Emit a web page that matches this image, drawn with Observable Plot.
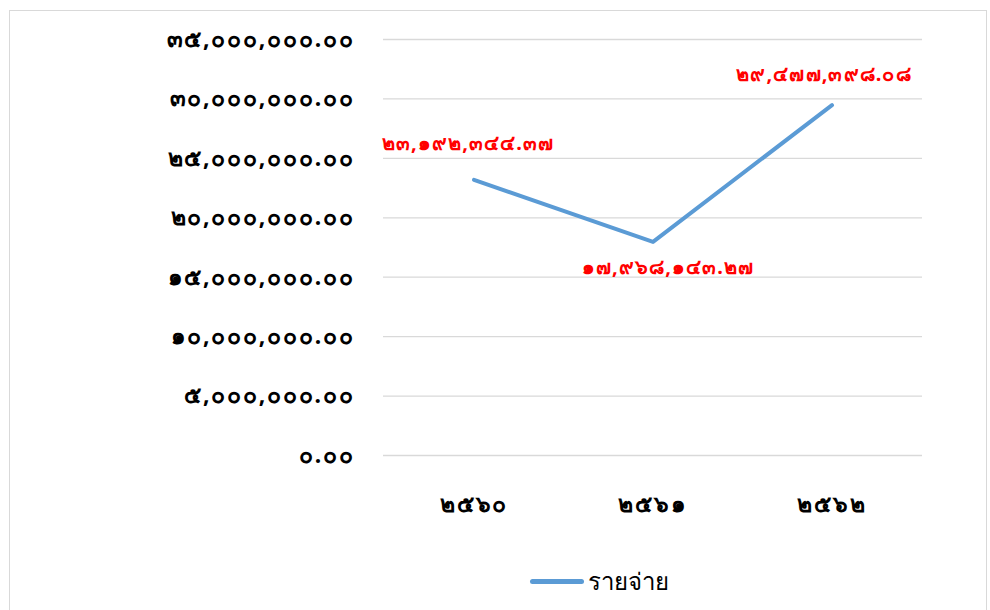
<!DOCTYPE html>
<html>
<head>
<meta charset="utf-8">
<script src="https://cdn.jsdelivr.net/npm/d3@7"></script>
<script src="https://cdn.jsdelivr.net/npm/@observablehq/plot@0.6"></script>
<style>
  html, body { margin: 0; padding: 0; background: #fff; }
  #wrap { position: relative; width: 990px; height: 610px; overflow: hidden; font-family: "Noto Sans", "DejaVu Sans", sans-serif; }
  #frame { position: absolute; left: 9px; top: 10px; width: 978px; height: 640px; border: 1px solid #d9d9d9; box-sizing: border-box; }
  #chart { position: absolute; left: 0; top: 0; }
  #chart svg g[aria-label="y-axis tick label"] text,
  #chart svg g[aria-label="x-axis tick label"] text { letter-spacing: 1.8px; }
  #chart svg g[aria-label="text"] text { letter-spacing: 1.1px; }
  #legend { position: absolute; left: 530px; top: 562px; display: flex; align-items: center; font-size: 24px; color: #000; }
  #legend .sw { width: 54px; height: 5px; border-radius: 3px; background: #5b9bd5; margin-right: 4px; }
</style>
</head>
<body>
<div id="wrap">
  <div id="frame"></div>
  <div id="chart"></div>
  <div id="legend"><span class="sw"></span><span id="legtext"></span></div>
</div>
<script>
const years = ["2560", "2561", "2562"];
const expenses = [23192344.37, 17968143.27, 29477398.08];
const yTicks = [0, 5000000, 10000000, 15000000, 20000000, 25000000, 30000000, 35000000];
const seriesName = "รายจ่าย";

const thaiDigits = "๐๑๒๓๔๕๖๗๘๙";
const toThai = s => String(s).replace(/[0-9]/g, d => thaiDigits[+d]);
const fmt = v => toThai(d3.format(",.2f")(v));

document.getElementById("legtext").textContent = seriesName;

const data = years.map((y, i) => ({year: y, value: expenses[i], i}));

const labelStyle = {fill: "#ff0000", fontWeight: "bold", fontSize: 20};

const plot = Plot.plot({
  width: 990,
  height: 530,
  marginLeft: 383,
  marginRight: 68,
  marginTop: 39,
  marginBottom: 75,
  style: {fontFamily: "'Noto Sans', 'DejaVu Sans', sans-serif", background: "transparent"},
  x: {type: "band", domain: years, padding: 0, label: null},
  y: {domain: [0, 35000000], label: null},
  marks: [
    Plot.gridY(yTicks, {stroke: "#d9d9d9", strokeOpacity: 1, strokeWidth: 1.3}),
    Plot.axisY(yTicks, {tickSize: 0, tickPadding: 29, tickFormat: fmt, fontSize: 23, fontWeight: "bold", fill: "#000", label: null}),
    Plot.axisX({tickSize: 0, tickPadding: 40, tickFormat: toThai, fontSize: 23, fontWeight: "bold", fill: "#000", label: null}),
    Plot.line(data, {x: "year", y: "value", stroke: "#5b9bd5", strokeWidth: 4, strokeLinecap: "round", strokeLinejoin: "round"}),
    Plot.text(data.filter(d => d.i === 0), {x: "year", y: "value", text: d => fmt(d.value), dx: -6, dy: -36, ...labelStyle}),
    Plot.text(data.filter(d => d.i === 1), {x: "year", y: "value", text: d => fmt(d.value), dx: 15, dy: 26, ...labelStyle}),
    Plot.text(data.filter(d => d.i === 2), {x: "year", y: "value", text: d => fmt(d.value), dx: -8, dy: -31, ...labelStyle})
  ]
});
document.getElementById("chart").appendChild(plot);
</script>
</body>
</html>
